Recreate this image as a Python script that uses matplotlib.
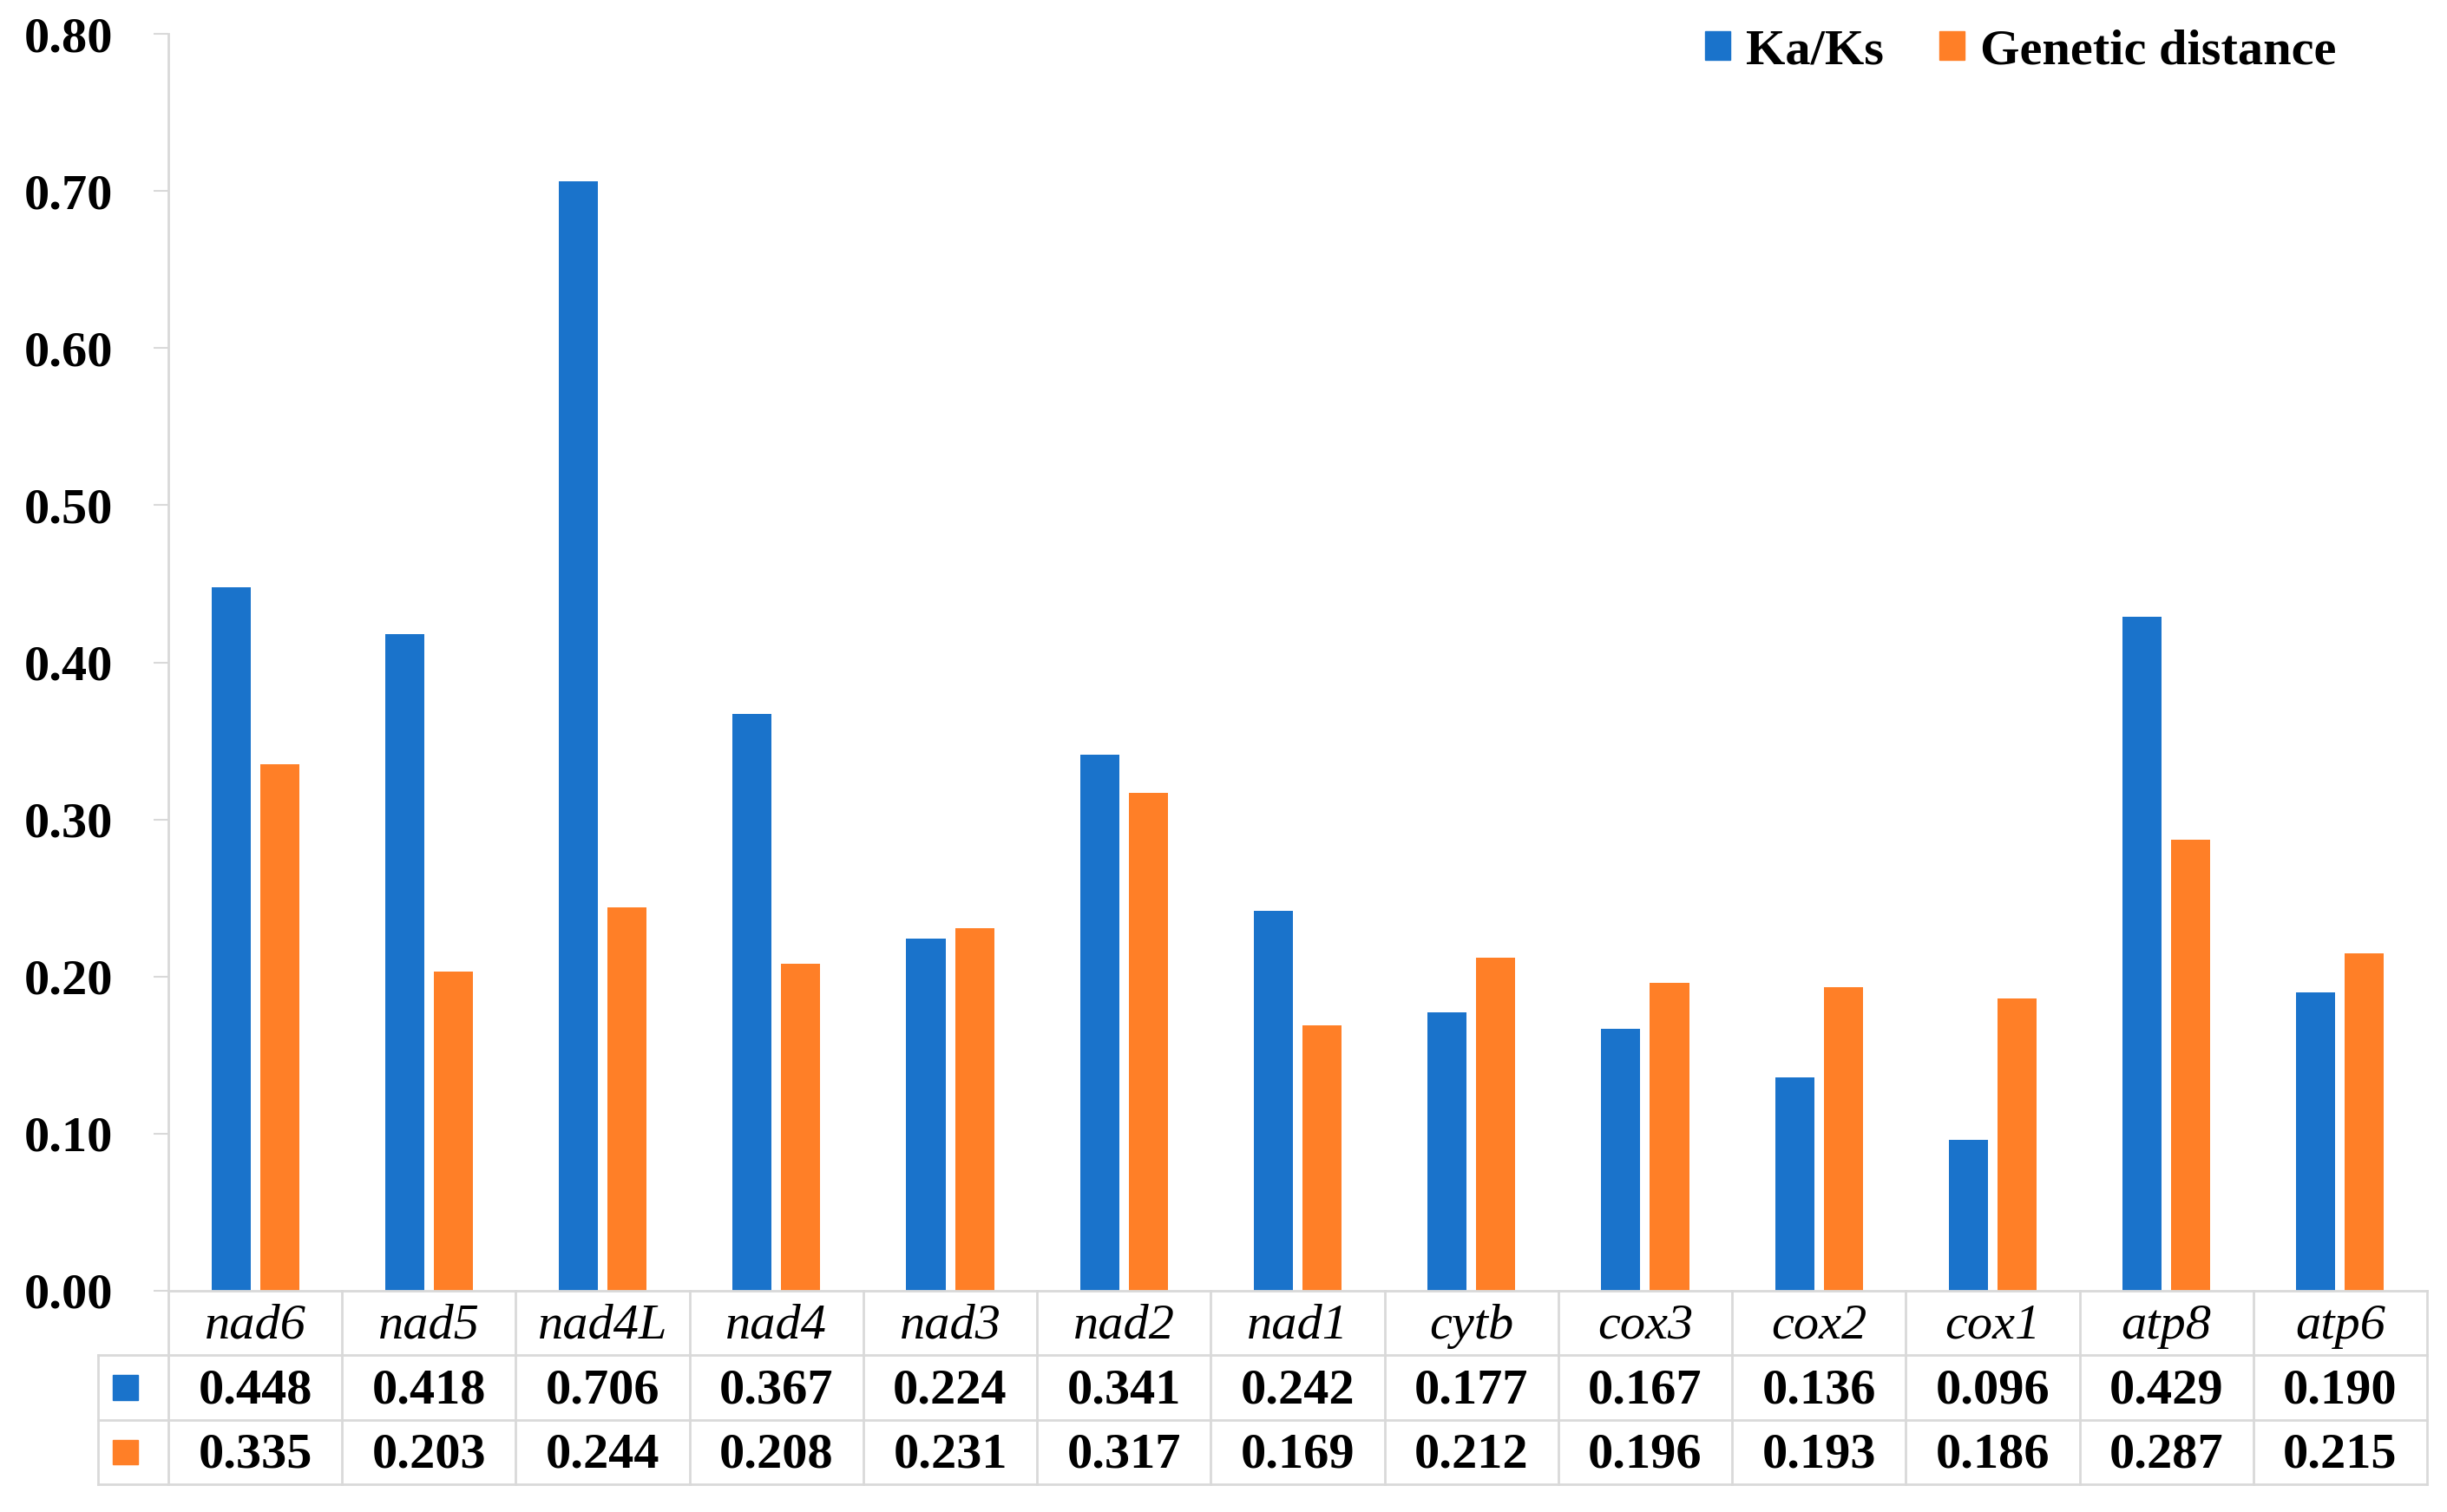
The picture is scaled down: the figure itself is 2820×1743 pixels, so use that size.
import matplotlib
matplotlib.use("Agg")
import matplotlib.pyplot as plt
from matplotlib.patches import Patch, Rectangle

plt.rcParams["font.family"] = ["Liberation Serif", "DejaVu Serif"]

genes = ["nad6", "nad5", "nad4L", "nad4", "nad3", "nad2", "nad1",
         "cytb", "cox3", "cox2", "cox1", "atp8", "atp6"]
ka_ks = [0.448, 0.418, 0.706, 0.367, 0.224, 0.341, 0.242,
         0.177, 0.167, 0.136, 0.096, 0.429, 0.190]
gen_dist = [0.335, 0.203, 0.244, 0.208, 0.231, 0.317, 0.169,
            0.212, 0.196, 0.193, 0.186, 0.287, 0.215]
series_names = ["Ka/Ks", "Genetic distance"]

blue = "#1A73CB"
orange = "#FF7F27"
grid_c = "#D9D9D9"
fs = 42

W, H = 2820, 1743
fig = plt.figure(figsize=(W / 100, H / 100), dpi=100)

def px_box(left, top, right, bottom):
    return [left / W, 1 - bottom / H, (right - left) / W, (bottom - top) / H]

ax = fig.add_axes(px_box(194, 39, 2797, 1488))
tab = fig.add_axes(px_box(194, 1488, 2797, 1711))

x = list(range(len(genes)))
bw = 0.225
off = 0.14
ax.bar([i - off for i in x], ka_ks, width=bw, color=blue, label=series_names[0])
ax.bar([i + off for i in x], gen_dist, width=bw, color=orange, label=series_names[1])

ax.set_xlim(-0.5, len(genes) - 0.5)
ax.set_ylim(0, 0.8)
ax.set_yticks([i / 10 for i in range(9)])
ax.set_yticklabels([f"{i / 10:.2f}" for i in range(9)], fontsize=fs, fontweight="bold")
ax.set_xticks([])
for s in ["top", "right"]:
    ax.spines[s].set_visible(False)
for s in ["left", "bottom"]:
    ax.spines[s].set_color(grid_c)
    ax.spines[s].set_linewidth(2)
ax.tick_params(axis="y", direction="out", length=12, width=1.5, color=grid_c, pad=34)

# legend
handles = [Patch(color=blue), Patch(color=orange)]
fig.legend(handles, series_names, loc="center right", bbox_to_anchor=(2692 / W, 1 - 59 / H),
           ncol=2, frameon=False, prop={"size": fs, "weight": "bold"},
           handlelength=0.5, handleheight=0.5, handletextpad=0.3,
           columnspacing=1.1, borderpad=0, borderaxespad=0)

# data table below the axis
n = len(genes)
key_left = -0.5 - (194 - 113) / ((2797 - 194) / n)
tab.set_xlim(-0.5, n - 0.5)
tab.set_ylim(0, 3)
tab.axis("off")
lw = 2
for i in range(n + 1):
    tab.plot([i - 0.5, i - 0.5], [0, 3], color=grid_c, lw=lw, clip_on=False)
tab.plot([key_left, key_left], [0, 2], color=grid_c, lw=lw, clip_on=False)
for yy in [0, 1, 2]:
    tab.plot([key_left, n - 0.5], [yy, yy], color=grid_c, lw=lw, clip_on=False)

for i, g in enumerate(genes):
    tab.text(i, 2.45, g, ha="center", va="center", fontsize=fs, style="italic")
    tab.text(i, 1.45, f"{ka_ks[i]:.3f}", ha="center", va="center", fontsize=fs, fontweight="bold")
    tab.text(i, 0.45, f"{gen_dist[i]:.3f}", ha="center", va="center", fontsize=fs, fontweight="bold")

kc = key_left + (144 - 113) / ((2797 - 194) / n)
kw = 29 / ((2797 - 194) / n)
kh = 28 / 74
for yc, c in [(1.5, blue), (0.5, orange)]:
    tab.add_patch(Rectangle((kc - kw / 2, yc - kh / 2), kw, kh, color=c, clip_on=False))

fig.savefig("out.png", dpi=100, facecolor="white")
